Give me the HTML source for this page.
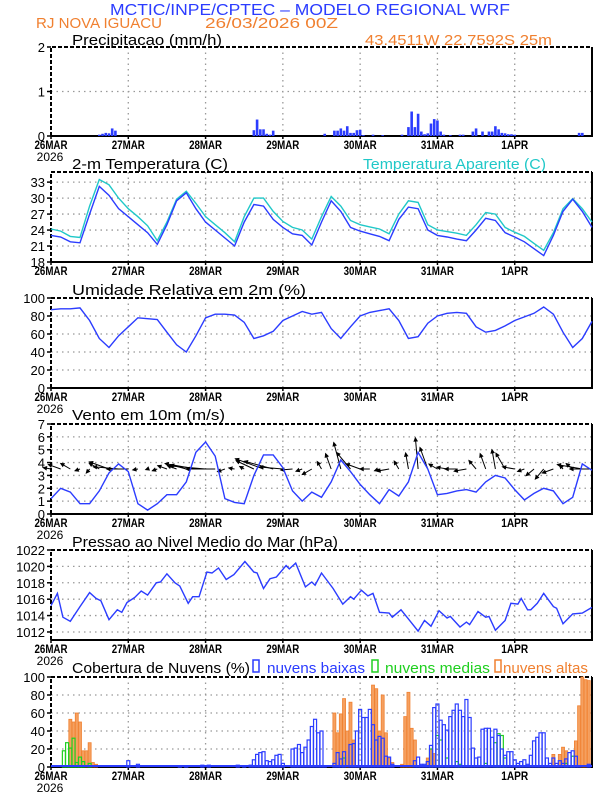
<!DOCTYPE html>
<html><head><meta charset="utf-8"><style>
html,body{margin:0;padding:0;background:#fff;}
svg{display:block;font-family:"Liberation Sans",sans-serif;}
</style></head><body>
<svg id="chart" width="612" height="792" viewBox="0 0 612 792">
<text x="110" y="15" font-size="16" fill="#2b3cff" textLength="400" lengthAdjust="spacingAndGlyphs">MCTIC/INPE/CPTEC – MODELO REGIONAL WRF</text>
<text x="36" y="28" font-size="15" fill="#f08030" textLength="126" lengthAdjust="spacingAndGlyphs">RJ NOVA IGUACU</text>
<text x="205" y="28" font-size="15" fill="#f08030" textLength="133" lengthAdjust="spacingAndGlyphs">26/03/2026 00Z</text>
<text x="365" y="45" font-size="15" fill="#f08030" textLength="187" lengthAdjust="spacingAndGlyphs">43.4511W 22.7592S 25m</text>
<text x="72" y="45" font-size="15" fill="#000" textLength="150" lengthAdjust="spacingAndGlyphs">Precipitacao (mm/h)</text>
<text x="72" y="169" font-size="15" fill="#000" textLength="156" lengthAdjust="spacingAndGlyphs">2-m Temperatura (C)</text>
<text x="363" y="169" font-size="15" fill="#20c8c8" textLength="183" lengthAdjust="spacingAndGlyphs">Temperatura Aparente (C)</text>
<text x="72" y="295" font-size="15" fill="#000" textLength="234" lengthAdjust="spacingAndGlyphs">Umidade Relativa em 2m (%)</text>
<text x="72" y="420" font-size="15" fill="#000" textLength="153" lengthAdjust="spacingAndGlyphs">Vento em 10m (m/s)</text>
<text x="72" y="547" font-size="15" fill="#000" textLength="266" lengthAdjust="spacingAndGlyphs">Pressao ao Nivel Medio do Mar (hPa)</text>
<text x="72" y="673" font-size="15" fill="#000" textLength="178" lengthAdjust="spacingAndGlyphs">Cobertura de Nuvens (%)</text>
<rect x="253" y="660" width="6" height="12" fill="none" stroke="#2b3cff" stroke-width="1.5"/>
<text x="267" y="673" font-size="15" fill="#2b3cff" textLength="98" lengthAdjust="spacingAndGlyphs">nuvens baixas</text>
<rect x="372" y="660" width="6" height="12" fill="none" stroke="#20d020" stroke-width="1.5"/>
<text x="385" y="673" font-size="15" fill="#20d020" textLength="105" lengthAdjust="spacingAndGlyphs">nuvens medias</text>
<rect x="495" y="660" width="6" height="12" fill="none" stroke="#f08030" stroke-width="1.5"/>
<text x="503" y="673" font-size="15" fill="#f08030" textLength="85" lengthAdjust="spacingAndGlyphs">nuvens altas</text>
</svg>
<script>
const dayLabels=["26MAR","27MAR","28MAR","29MAR","30MAR","31MAR","1APR"];
const hours3=[0,3,6,9,12,15,18,21,24,27,30,33,36,39,42,45,48,51,54,57,60,63,66,69,72,75,78,81,84,87,90,93,96,99,102,105,108,111,114,117,120,123,126,129,132,135,138,141,144,147,150,153,156,159,162,165,168];
const tempVals=[23,22.7,21.8,21.6,27,32.2,30.5,28,26.5,25,23.5,21.3,25,29.5,31,28,25.5,24,22.5,21,25.5,28.8,28.5,26,24.5,23.3,23,21.2,25.5,29.5,27.5,24.5,23.8,23.3,22.8,22,26,28.3,28,24,23,22.7,22.3,22,24,26.2,25.8,23.5,22.7,21.8,20.5,19.2,23,27.5,29.8,27.5,24.5];
const appTempVals=[24.2,23.8,22.8,22.6,28.5,33.5,32.5,30,28,26.5,24.8,22,25.5,29.8,31.3,29,26.5,25,23.5,21.8,26.5,30,30,27.5,25.6,24.5,24,22.3,26.5,30.3,28.5,25.8,25,24.6,24.2,23.3,27,29.5,29.2,25,24,23.7,23.4,23,25,27.3,27,24.5,23.6,22.8,21.5,20.2,23.5,28,29.9,28,25.5];
const humVals=[87,88,88,89,75,55,45,58,68,78,77,76,62,48,40,58,78,82,82,81,73,55,58,63,75,80,85,82,84,66,55,68,80,84,86,88,75,55,57,72,80,83,84,83,68,62,64,69,75,79,83,90,82,62,45,55,74];
const windSpeed=[1.2,2.0,1.7,0.8,0.8,1.8,3.2,3.9,3.3,0.8,0.3,0.8,1.5,1.5,2.5,4.8,5.6,4.5,1.2,0.9,0.8,3.0,4.6,4.6,3.6,1.8,1.0,1.7,1.3,2.5,4.2,3.3,2.3,1.5,0.8,1.9,1.4,2.5,4.8,3.5,1.5,1.6,1.8,1.9,1.7,2.5,3.0,2.8,1.9,1.1,1.6,2.0,1.8,0.8,1.3,3.9,3.4];
const windArrowDir=[170,160,150,200,230,150,160,175,180,190,200,200,160,160,165,170,175,180,200,170,150,155,160,165,175,185,200,210,120,110,105,130,160,180,200,190,120,100,95,110,150,170,180,190,130,110,100,120,170,200,220,230,200,130,140,170,180];
const presHours=[0,2,3.7,6,9,12,14,15.5,18,20.6,22,23.6,26,28,30,32.7,34,36,38.5,40,42.6,44,46,48.4,50,52,54.4,56.8,60.2,63,64,66,68,70,73,74,76,79,81,82,84,87.6,90.6,93,94,96.4,98.4,100,102,105,106,108.7,111,114,116,118,120.5,123,124,127,129,130,132.6,135,136,138,141,142.8,145,146,148,149,151,153,156,157,159,162,165,168];
const presVals=[1015.2,1016.7,1013.8,1013.3,1015.1,1016.8,1016.1,1015.8,1013.5,1014.7,1014.4,1015.6,1016.2,1017.0,1016.5,1018.0,1018.1,1019.1,1018.0,1017.6,1015.5,1016.3,1016.3,1019.3,1019.2,1019.8,1018.4,1019.0,1020.6,1019.3,1019.2,1017.3,1018.5,1018.7,1020.1,1019.7,1020.4,1017.5,1018.1,1017.7,1019.2,1017.3,1015.4,1016.3,1016.0,1017.1,1016.4,1016.7,1014.4,1014.3,1013.8,1014.7,1013.6,1012.1,1013.4,1012.7,1014.6,1013.7,1013.9,1012.6,1013.2,1012.9,1014.5,1013.8,1013.9,1012.2,1013.4,1015.5,1015.4,1016.1,1014.7,1014.7,1015.5,1016.7,1015.1,1014.9,1013.0,1014.2,1014.3,1015.0];
const precipHours=[15,16,17,18,19,20,63,64,65,66,67,68,69,85,88,89,90,91,92,93,94,95,96,97,100,103,109,111,112,113,114,115,116,117,118,119,120,121,122,124,127,128,131,132,134,136,137,138,139,140,141,142,143,144,164,165];
const precipVals=[0.03,0.05,0.07,0.06,0.17,0.12,0.13,0.37,0.15,0.15,0.05,0.03,0.12,0.05,0.12,0.12,0.17,0.12,0.22,0.07,0.07,0.13,0.14,0.02,0.03,0.02,0.03,0.2,0.55,0.2,0.5,0.1,0.04,0.06,0.28,0.38,0.35,0.1,0.03,0.02,0.03,0.03,0.1,0.17,0.1,0.1,0.1,0.22,0.15,0.07,0.06,0.04,0.04,0.03,0.07,0.07];
const lowHours=[24,27,40,42,47,49,58,60,62,63,64,65,66,67,68,69,70,71,72,75,76,77,78,79,80,81,82,83,84,85,88,89,90,91,93,94,95,96,97,98,99,100,101,102,103,104,105,106,113,114,115,116,117,118,119,120,121,122,123,124,125,126,127,128,129,130,131,132,133,134,135,136,137,138,139,140,141,142,143,144,145,146,147,148,149,150,151,152,153,154,155,156,157,158,159,160,161,162,163,164,167];
const lowVals=[7,3,1,1,2,2,2,1,2,8,14,16,17,7,6,8,13,14,4,20,21,25,16,22,30,45,53,38,40,1,4,16,9,17,25,26,40,64,55,55,64,47,30,34,32,12,11,3,7,11,3,3,6,24,66,70,52,47,41,56,63,70,63,56,75,55,21,10,11,42,43,43,33,42,35,20,13,17,17,8,4,6,8,3,13,29,33,38,38,10,4,10,4,7,4,9,16,18,12,1,3];
const midHours=[4,5,6,7,8,9,10,12,91,118,120,121,123,126,127,135,138,139,140,141,160,162];
const midVals=[18,27,21,32,5,11,6,4,10,20,35,30,10,6,3,4,27,37,35,10,4,12];
const highHours=[6,7,8,9,10,11,12,13,14,88,89,90,91,92,93,94,100,101,102,103,104,105,106,109,110,111,112,113,117,118,119,156,158,159,160,163,164,165,166,167];
const highVals=[53,50,60,50,18,18,27,5,3,60,38,59,76,40,72,30,91,87,40,80,38,10,5,3,56,83,43,30,10,20,15,14,14,22,18,29,68,100,97,96];

const NS="http://www.w3.org/2000/svg";
const svg=document.getElementById('chart');
const X0=51,X1=592,HMAX=168;
function xs(h){return X0+h*(X1-X0)/HMAX;}
function mk(tag,attrs,parent){const e=document.createElementNS(NS,tag);for(const k in attrs)e.setAttribute(k,attrs[k]);(parent||svg).appendChild(e);return e;}
function panel(name,top,bottom,ymin,ymax,ticks,show2026){
  const g=mk('g',{});
  
  
  const ys=v=>bottom-(v-ymin)/(ymax-ymin)*(bottom-top);
  for(let d=1;d<7;d++){const x=xs(d*24);const l=mk('line',{x1:x,x2:x,y1:top,y2:bottom,stroke:'#999','stroke-width':1.3,'stroke-dasharray':'1.5,4'},g);}
  ticks.forEach(t=>{const y=ys(t);
    if(y>top+1&&y<bottom-1){const l=mk('line',{x1:X0,x2:X1,y1:y,y2:y,stroke:'#999','stroke-width':1.3,'stroke-dasharray':'1.5,4'},g);}
    const tk=mk('line',{x1:X0-4,x2:X0,y1:y,y2:y,stroke:'#000','stroke-width':1.5},g);
    const tx=mk('text',{x:X0-6,y:y+5,'text-anchor':'end','font-size':13,fill:'#000'},g);tx.textContent=t;});
  dayLabels.forEach((lab,i)=>{const x=xs(i*24);
    const tk=mk('line',{x1:x,x2:x,y1:bottom,y2:bottom+3,stroke:'#000','stroke-width':1.5},g);
    const tx=mk('text',{x:x,y:bottom+13,'text-anchor':'middle','font-size':12,'font-weight':'bold',fill:'#000',textLength:lab.length>4?33:27,lengthAdjust:'spacingAndGlyphs'},g);tx.textContent=lab;});
  if(show2026){const tx=mk('text',{x:X0-1,y:bottom+25,'text-anchor':'middle','font-size':12,fill:'#000'},g);tx.textContent='2026';}
  const fr1=mk('path',{d:`M${X0},${bottom}V${top}H${X1}`,fill:'none',stroke:'#000','stroke-width':2,'stroke-dasharray':'4,2'},g);
  const fr2=mk('path',{d:`M${X1},${top}V${bottom}H${X0}`,fill:'none',stroke:'#000','stroke-width':2},g);
  return {g,ys};
}
function line(p,hrs,vals,color,name){
  const d=hrs.map((h,i)=>(i?'L':'M')+xs(h).toFixed(1)+','+p.ys(vals[i]).toFixed(1)).join('');
  const e=mk('path',{d,fill:'none',stroke:color,'stroke-width':1.4});
  
  
}
// precip
const pp=panel('precip',47,136,0,2,[0,1,2],true);
precipHours.forEach((h,i)=>{const y=pp.ys(precipVals[i]);const r=mk('rect',{x:xs(h)-1.3,y:y,width:2.6,height:136-y,fill:'#2b3cff'});

});
// temp
const pt=panel('temperature',172,262,18,34.9,[18,21,24,27,30,33],false);
line(pt,hours3,appTempVals,'#20c8c8','apparent-temp-line');
line(pt,hours3,tempVals,'#2b3cff','temp-line');
// humidity
const ph=panel('humidity',298,388,0,100,[0,20,40,60,80,100],true);
line(ph,hours3,humVals,'#2b3cff','humidity-line');
// wind
const pw=panel('wind',424,514,0,7,[0,1,2,3,4,5,6,7],true);
const baseY=pw.ys(3.5);
hours3.forEach((h,i)=>{const L=windSpeed[i]*6.5;const a=windArrowDir[i]*Math.PI/180;
  const x0=xs(h),x1=x0+L*Math.cos(a),y1=baseY-L*Math.sin(a);
  const ar=mk('line',{x1:x0,y1:baseY,x2:x1,y2:y1,stroke:'#000','stroke-width':1});
  
  
  const hl=3.5,b1=a+Math.PI-0.45,b2=a+Math.PI+0.45;
  const hd=mk('path',{d:`M${x1+hl*Math.cos(b1)},${y1-hl*Math.sin(b1)}L${x1},${y1}L${x1+hl*Math.cos(b2)},${y1-hl*Math.sin(b2)}Z`,fill:'#000',stroke:'#000','stroke-width':1});
  
  });
line(pw,hours3,windSpeed,'#2b3cff','wind-speed-line');
// pressure
const pr=panel('pressure',550,640,1011.02,1022,[1012,1014,1016,1018,1020,1022],true);
line(pr,presHours,presVals,'#2b3cff','pressure-line');
// clouds
const pc=panel('clouds',677,767,0,100,[0,20,40,60,80,100],true);
highHours.forEach((h,i)=>{const y=pc.ys(highVals[i]);const r=mk('rect',{x:xs(h)-1.5,y:y,width:3,height:767-y,fill:'#f5a060',stroke:'#f08030','stroke-width':0.8});

});
midHours.forEach((h,i)=>{const y=pc.ys(midVals[i]);const r=mk('rect',{x:xs(h)-1.5,y:y,width:3,height:767-y,fill:'none',stroke:'#20d020','stroke-width':1.2});

});
lowHours.forEach((h,i)=>{const y=pc.ys(lowVals[i]);const r=mk('rect',{x:xs(h)-1.5,y:y,width:3,height:767-y,fill:'none',stroke:'#2b3cff','stroke-width':1.2});

});
const zl=mk('line',{x1:X0,x2:X1,y1:766,y2:766,stroke:'#2b3cff','stroke-width':2});


</script>
</body></html>
